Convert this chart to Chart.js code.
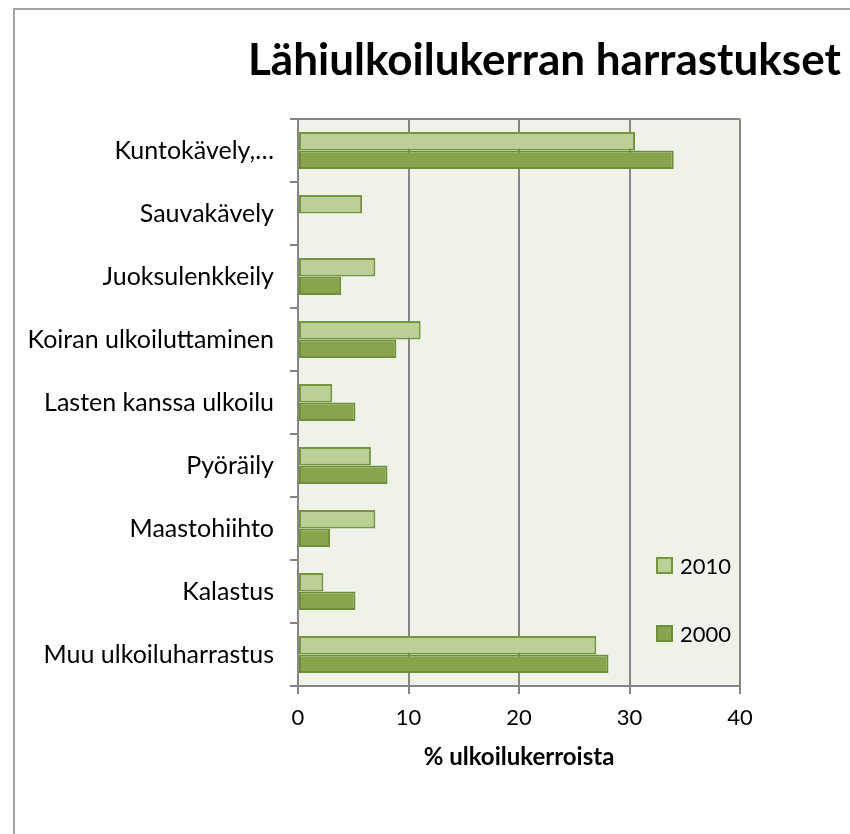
<!DOCTYPE html>
<html>
<head>
<meta charset="utf-8">
<script src="https://cdn.jsdelivr.net/npm/chart.js"></script>
<style>
  html, body { margin: 0; padding: 0; background: #fff; overflow: hidden; }
  #wrap { width: 850px; height: 834px; }
</style>
</head>
<body>
<div id="wrap"><canvas id="chart" width="850" height="834"></canvas></div>
<script>
// data
const kategoriat = ["Kuntokävely,…", "Sauvakävely", "Juoksulenkkeily", "Koiran ulkoiluttaminen",
  "Lasten kanssa ulkoilu", "Pyöräily", "Maastohiihto", "Kalastus", "Muu ulkoiluharrastus"];
const vuosi2010 = [30.5, 5.8, 7.0, 11.1, 3.1, 6.6, 7.0, 2.3, 27.0];
const vuosi2000 = [34.0, null, 3.9, 8.9, 5.2, 8.1, 2.9, 5.2, 28.1];
const xTicks = [0, 10, 20, 30, 40];
const otsikko = "Lähiulkoilukerran harrastukset";
const akseliOtsikko = "% ulkoilukerroista";

const fontti = "Lato, 'Liberation Sans', sans-serif";
const harmaa = "#868686";

// tausta, kehys, otsikko ja selite
const koristeet = {
  id: "koristeet",
  beforeDraw(chart) {
    const ctx = chart.ctx;
    const a = chart.chartArea;
    ctx.save();
    ctx.fillStyle = "#fff";
    ctx.fillRect(0, 0, chart.width, chart.height);
    ctx.strokeStyle = "#a5a5a5";
    ctx.lineWidth = 2;
    ctx.strokeRect(14, 9, chart.width + 20, chart.height + 20);
    ctx.fillStyle = "#eff2e9";
    ctx.fillRect(a.left, a.top, a.right - a.left, a.bottom - a.top);
    ctx.restore();
  },
  afterDraw(chart) {
    const ctx = chart.ctx;
    const a = chart.chartArea;
    ctx.save();
    // yläreuna
    ctx.strokeStyle = harmaa;
    ctx.lineWidth = 2;
    ctx.beginPath();
    ctx.moveTo(a.left - 8, a.top);
    ctx.lineTo(a.right, a.top);
    ctx.stroke();
    // otsikko
    ctx.fillStyle = "#000";
    ctx.font = "bold 44px " + fontti;
    ctx.textBaseline = "middle";
    ctx.textAlign = "left";
    ctx.fillText(otsikko, 248, 61);
    // selite
    ctx.font = "22px " + fontti;
    const ds = chart.data.datasets;
    ds.forEach((d, i) => {
      const y = 566 + i * 68;
      ctx.fillStyle = d.backgroundColor;
      ctx.strokeStyle = d.borderColor;
      ctx.lineWidth = 2;
      ctx.fillRect(657, y - 8, 15, 15);
      ctx.strokeRect(657, y - 8, 15, 15);
      ctx.fillStyle = "#000";
      ctx.fillText(d.label, 680, y + 1);
    });
    ctx.restore();
  }
};

new Chart(document.getElementById("chart"), {
  type: "bar",
  data: {
    labels: kategoriat,
    datasets: [
      { label: "2010", data: vuosi2010, backgroundColor: "#bbcf97", borderColor: "#76953f", borderWidth: 2, borderSkipped: false, inflateAmount: 0 },
      { label: "2000", data: vuosi2000, backgroundColor: "#89a44c", borderColor: "#6f8e39", borderWidth: 2, borderSkipped: false, inflateAmount: 0 }
    ]
  },
  options: {
    indexAxis: "y",
    responsive: false,
    animation: false,
    layout: { padding: { left: 0, right: 110, top: 119, bottom: 48 } },
    plugins: { legend: { display: false }, tooltip: { enabled: false }, title: { display: false } },
    datasets: { bar: { categoryPercentage: 0.59, barPercentage: 1.0 } },
    scales: {
      x: {
        min: 0, max: 40,
        afterBuildTicks(s) { s.ticks = xTicks.map(v => ({ value: v })); },
        afterFit(s) { s.height = 100; },
        grid: { color: harmaa, lineWidth: 2, tickLength: 8, drawTicks: true },
        border: { color: harmaa, width: 2 },
        ticks: { color: "#000", font: { family: fontti, size: 22 }, padding: 11 },
        title: { display: true, text: akseliOtsikko, color: "#000", font: { family: fontti, size: 24, weight: "bold" }, padding: { top: 0, bottom: 14 } }
      },
      y: {
        afterFit(s) { s.width = 298; },
        grid: { drawOnChartArea: false, color: harmaa, lineWidth: 2, tickLength: 8 },
        border: { color: harmaa, width: 2 },
        ticks: { color: "#000", font: { family: fontti, size: 25 }, padding: 16 }
      }
    }
  },
  plugins: [koristeet]
});
</script>
</body>
</html>
